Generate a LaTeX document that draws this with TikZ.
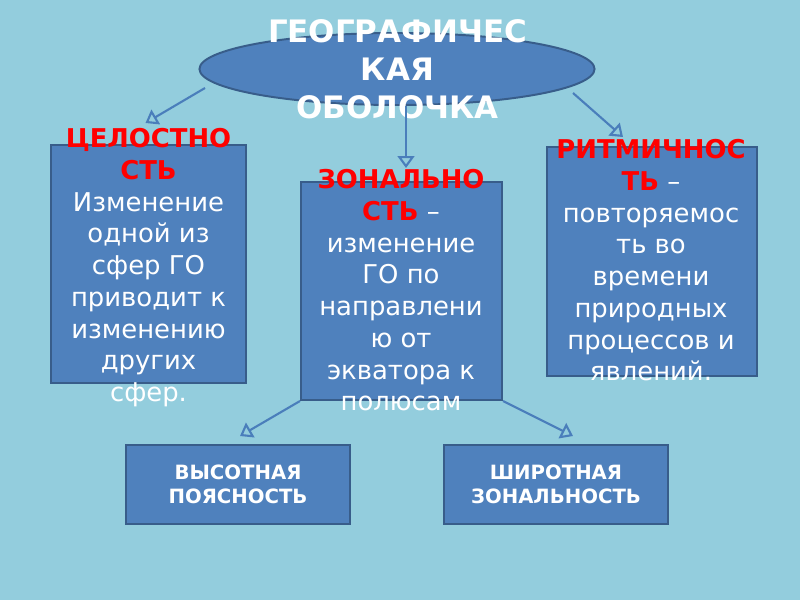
\documentclass[tikz,border=0pt]{standalone}
\usepackage{fontspec}
\setmainfont{DejaVu Sans}
\usetikzlibrary{
    positioning,      % Relative positioning
    shapes.geometric, % Ellipse
    arrows.meta,      % Modern arrow tips
    calc              % Coordinate calculations
}
\definecolor{slidebg}{HTML}{93CDDD}
\definecolor{boxfill}{HTML}{4F81BD}
\definecolor{boxline}{HTML}{385D8A}
\definecolor{arrowblue}{HTML}{4A7EBB}
\definecolor{hred}{HTML}{FF0000}
\newcommand{\hdr}[1]{\textcolor{hred}{\bfseries #1}}

\begin{document}
\begin{tikzpicture}[x=0.025cm, y=-0.025cm,
    cardbox/.style={draw=boxline, fill=boxfill, line width=1.4pt, rectangle, inner sep=0pt},
    cardtext/.style={text=white, align=center, inner sep=0pt, anchor=north,
        font=\fontsize{18.4}{22.6}\selectfont},
    footbox/.style={cardbox, minimum width=5.6cm, minimum height=1.975cm, text=white,
        align=center, font=\fontsize{14}{17}\selectfont\bfseries},
    link/.style={draw=arrowblue, line width=1.5pt, -{Triangle[open, length=8.5pt, width=12pt]}}]
    % slide background
    \fill[slidebg] (0,0) rectangle (800,600);

    % top ellipse
    \node[ellipse, draw=boxline, fill=boxfill, line width=1.4pt,
          minimum width=9.875cm, minimum height=1.8cm] (geo) at (397,69) {};
    \node[text=white, align=center, inner sep=0pt, anchor=north,
          font=\fontsize{22}{27}\selectfont\bfseries] (geotxt) at (397.5,19)
          {ГЕОГРАФИЧЕС\\КАЯ\\ОБОЛОЧКА};

    % three property boxes
    \node[cardbox, minimum width=4.875cm, minimum height=5.95cm] (intbox) at (148.5,264) {};
    \node[cardbox, minimum width=5.025cm, minimum height=5.45cm] (zonebox) at (401.5,291) {};
    \node[cardbox, minimum width=5.25cm, minimum height=5.725cm] (rhybox) at (652,261.5) {};

    \node[cardtext] (inttxt) at (148.5,128)
        {\hdr{ЦЕЛОСТНО}\\\hdr{СТЬ}\\Изменение\\одной из\\сфер ГО\\приводит к\\изменению\\других\\сфер.};
    \node[cardtext] (zonetxt) at (401,169)
        {\hdr{ЗОНАЛЬНО}\\\hdr{СТЬ} –\\изменение\\ГО по\\направлени\\ю от\\экватора к\\полюсам};
    \node[cardtext] (rhytxt) at (651,139)
        {\hdr{РИТМИЧНОС}\\\hdr{ТЬ} –\\повторяемос\\ть во\\времени\\природных\\процессов и\\явлений.};

    % two kinds of zonality
    \node[footbox] (altbox) at (238,484.5) {ВЫСОТНАЯ\\ПОЯСНОСТЬ};
    \node[footbox] (latbox) at (556,484.5) {ШИРОТНАЯ\\ЗОНАЛЬНОСТЬ};

    % connectors
    \draw[link] ($(geo.center)+(-192,19)$) -- ($(inttxt.north)+(-3,-5)$);
    \draw[link] ($(geo.south)+(9,0)$) -- ($(zonetxt.north)+(5,-1)$);
    \draw[link] ($(geo.center)+(176,24)$) -- ($(rhytxt.north)+(-28,-2)$);
    \draw[link] (zonebox.south west) -- ($(altbox.north)+(2,-8)$);
    \draw[link] (zonebox.south east) -- ($(latbox.north)+(17,-8)$);
\end{tikzpicture}
\end{document}
